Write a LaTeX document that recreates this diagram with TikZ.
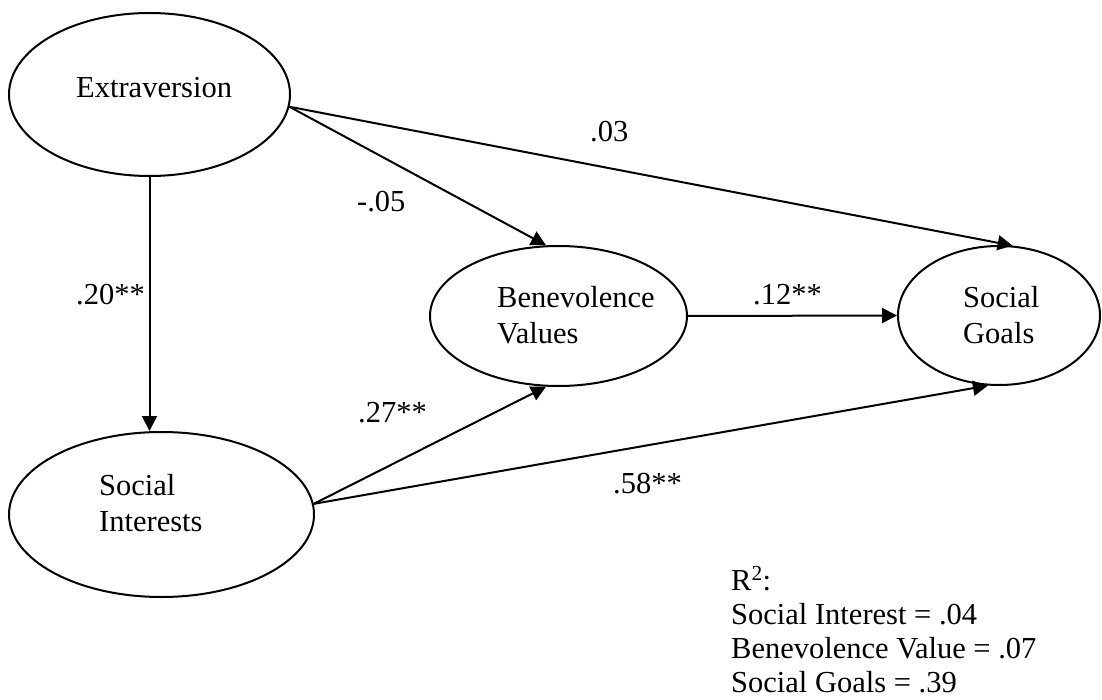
\documentclass[tikz,border=0pt]{standalone}
\usepackage{fontspec}
\setmainfont{Liberation Serif}
\usetikzlibrary{shapes.geometric,arrows.meta}
\begin{document}
\begin{tikzpicture}[x=1pt,y=-1pt,
  latent/.style={draw,ellipse,line width=2pt,inner sep=0pt},
  txt/.style={anchor=base west,inner sep=0pt,align=left,
    font=\fontsize{30.5}{35.5}\selectfont},
  effect/.style={line width=2pt,-{Triangle[length=15pt,width=15pt]}}]
  \useasboundingbox (0,0) rectangle (1102,700);

  % latent constructs
  \node[latent,minimum width=281pt,minimum height=163pt] (ext) at (149.5,94.5) {};
  \node[latent,minimum width=305pt,minimum height=165pt] (si)  at (161.5,514.5) {};
  \node[latent,minimum width=257pt,minimum height=140pt] (ben) at (558.5,316) {};
  \node[latent,minimum width=202pt,minimum height=139pt] (sg)  at (999,315.5) {};

  % construct names (base anchor sits on the last line)
  \node[txt] (extT) at (76,98) {Extraversion};
  \node[txt] (siT)  at (99,531) {Social\\Interests};
  \node[txt] (benT) at (497,343) {Benevolence\\Values};
  \node[txt] (sgT)  at (963,343) {Social\\Goals};

  % structural paths
  \draw[effect] (ext.south) -- (ext.south |- si.north);
  \draw[effect] (ext.-5) -- (ben.100.5);
  \draw[effect] (ext.-5) -- (sg.79.5);
  \draw[effect] (ben.east) -- (sg.west);
  \draw[effect] (si.4.5) -- (ben.-100.5);
  \draw[effect] (si.4.5) -- (sg.-99);

  % path coefficients
  \node[txt] (c03) at (590,142) {.03};
  \node[txt] (c05) at (357,212) {-.05};
  \node[txt] (c20) at (76,305) {.20**};
  \node[txt] (c12) at (753,305) {.12**};
  \node[txt] (c27) at (358,422) {.27**};
  \node[txt] (c58) at (613,493) {.58**};

  % explained variance
  \node[txt,font=\fontsize{30.5}{34}\selectfont] (rsq) at (731,692)
    {R\textsuperscript{2}:\\Social Interest = .04\\Benevolence Value = .07\\Social Goals = .39};
\end{tikzpicture}
\end{document}
